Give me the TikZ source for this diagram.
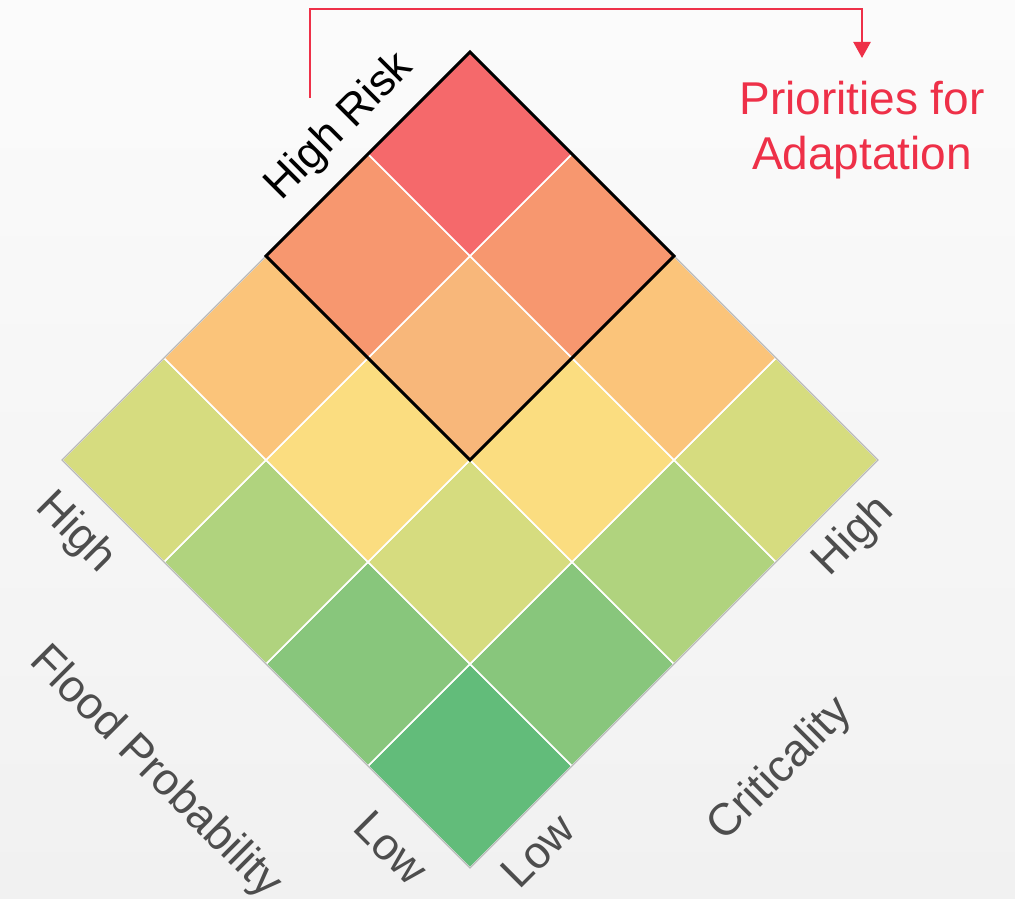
\documentclass[tikz,border=0pt]{standalone}
\usepackage{fontspec}
\setmainfont{Liberation Sans}
\usetikzlibrary{arrows.meta}
\definecolor{gA}{HTML}{62BC7A}
\definecolor{gB}{HTML}{88C67C}
\definecolor{gC}{HTML}{B0D37E}
\definecolor{gD}{HTML}{D6DC7F}
\definecolor{yA}{HTML}{FBDD80}
\definecolor{oA}{HTML}{FBC47A}
\definecolor{oB}{HTML}{F8B77A}
\definecolor{oC}{HTML}{F7976F}
\definecolor{rA}{HTML}{F5696B}
\definecolor{labelgray}{HTML}{4D4D4D}
\definecolor{prired}{HTML}{EE3048}
\tikzstyle{cell} = [draw=white, line width=0.8pt, line join=miter]
\tikzstyle{axislabel} = [text=labelgray, font=\fontsize{22.5}{26}\selectfont]
\tikzstyle{risklabel} = [text=black, font=\fontsize{22}{25}\selectfont]
\tikzstyle{riskbox} = [draw=black, line width=1.5pt, line join=miter]
\tikzstyle{prionode} = [text=prired, align=center, font=\fontsize{23}{27.5}\selectfont]
\tikzstyle{prioarrow} = [prired, line width=1.2pt, shorten >=8pt, -{Triangle[width=8.5pt,length=8pt]}]

\begin{document}
\begin{tikzpicture}[x=0.5pt, y=-0.5pt]
  \shade[top color=black!1.5, bottom color=black!5.5] (0,0) rectangle (1015,898);
  \useasboundingbox (0,0) rectangle (1015,898);

  % i = flood probability, j = criticality, both counted from the bottom corner
  \foreach \i/\j/\c in {0/0/gA, 1/0/gB, 0/1/gB, 2/0/gC, 1/1/gD, 0/2/gC,
                        3/0/gD, 2/1/yA, 1/2/yA, 0/3/gD, 3/1/oA, 2/2/oB,
                        1/3/oA, 3/2/oC, 2/3/oC, 3/3/rA}
    \filldraw[cell, fill=\c] ({470-102*\i+102*\j},{868-102*\i-102*\j})
      -- ++(-102,-102) -- ++(102,-102) -- ++(102,102) -- cycle;

  \coordinate (bot) at (470,868);
  \coordinate (lft) at (62,460);
  \coordinate (top) at (470,52);
  \coordinate (rgt) at (878,460);
  \draw[black!28, line width=0.6pt] (bot) -- (lft) -- (top) -- (rgt) -- cycle;

  \coordinate (hrtop) at (470,52);
  \coordinate (hrleft) at (266,256);
  \coordinate (hrbot) at (470,460);
  \coordinate (hrright) at (674,256);
  \draw[riskbox] (hrtop) -- (hrleft) -- (hrbot) -- (hrright) -- cycle;

  \node[axislabel, rotate=-45] (probhigh) at (75,533) {High};
  \node[axislabel, rotate=-45] (probname) at (155,773) {Flood Probability};
  \node[axislabel, rotate=-45] (problow) at (391,848) {Low};
  \node[axislabel, rotate=45] (critlow) at (538,851) {Low};
  \node[axislabel, rotate=45] (critname) at (781,770) {Criticality};
  \node[axislabel, rotate=45] (crithigh) at (854,537) {High};
  \node[risklabel, rotate=45] (risklabel) at (340,127) {High Risk};

  \node[prionode] (prio) at (862,130) {Priorities for\\Adaptation};
  \coordinate (riskmark) at (310,98);
  \coordinate (bend) at (310,9);
  \draw[prioarrow] (riskmark) -- (bend) -| (prio.north);
\end{tikzpicture}
\end{document}
